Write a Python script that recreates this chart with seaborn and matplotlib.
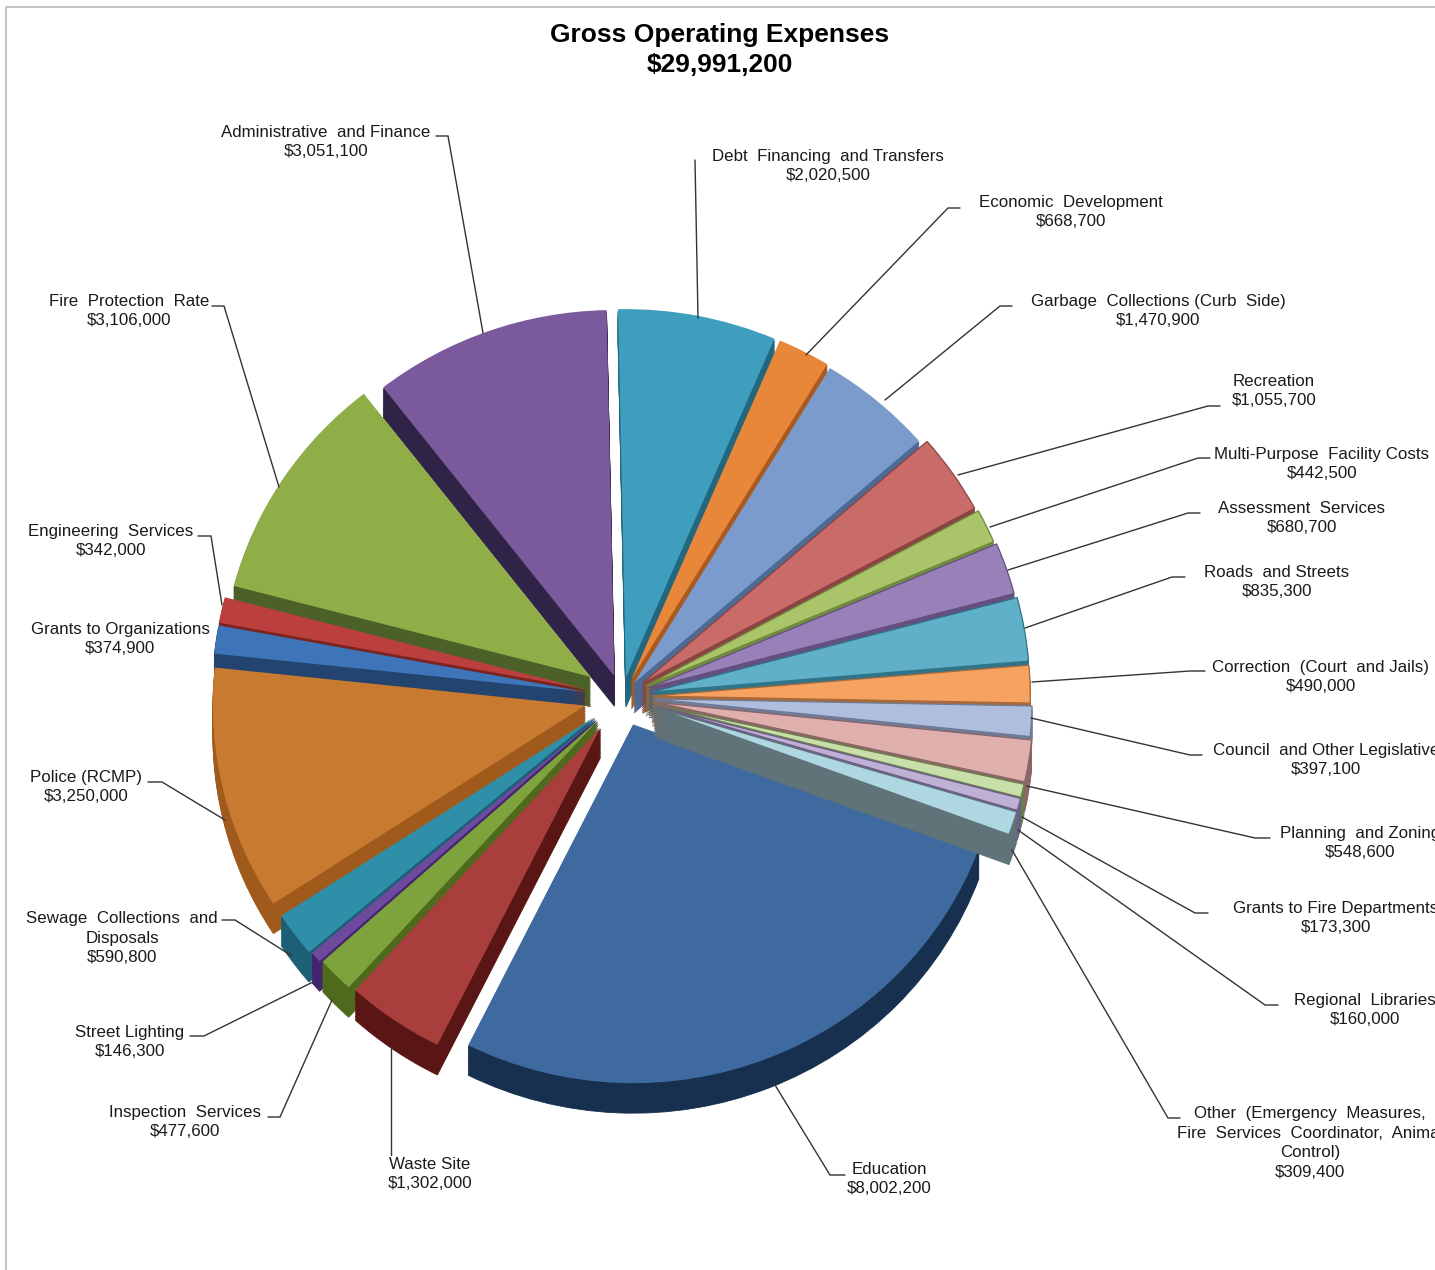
import matplotlib
matplotlib.use("Agg")
import matplotlib.pyplot as plt
import seaborn as sns

categories = [
    "Debt  Financing  and Transfers", "Economic  Development",
    "Garbage  Collections (Curb  Side)", "Recreation",
    "Multi-Purpose  Facility Costs", "Assessment  Services",
    "Roads  and Streets", "Correction  (Court  and Jails)",
    "Council  and Other Legislative", "Planning  and Zoning",
    "Grants to Fire Departments", "Regional  Libraries",
    "Other  (Emergency  Measures,\nFire  Services  Coordinator,  Animal\nControl)",
    "Education", "Waste Site", "Inspection  Services", "Street Lighting",
    "Sewage  Collections  and\nDisposals", "Police (RCMP)",
    "Grants to Organizations", "Engineering  Services",
    "Fire  Protection  Rate", "Administrative  and Finance",
]
amounts = [
    2020500, 668700, 1470900, 1055700, 442500, 680700, 835300, 490000,
    397100, 548600, 173300, 160000, 309400, 8002200, 1302000, 477600,
    146300, 590800, 3250000, 374900, 342000, 3106000, 3051100,
]
gross_total = 29991200
face_colors = [
    "#3f9ebd", "#e8863a", "#7a9bcb", "#c96b68", "#a9c469", "#9880b9",
    "#5fb0c8", "#f6a261", "#b0bede", "#e0b0ae", "#c9dfaa", "#bfb0d6",
    "#aed7e2", "#3f6a9f", "#a83f3c", "#7fa33c", "#6e4a9e", "#2f8fa8",
    "#c87a30", "#3d75b8", "#bb3f3c", "#8fae47", "#7a5a9c",
]
wall_colors = [
    "#23677e", "#a85a20", "#4d6a94", "#8a4442", "#718a40", "#64507f",
    "#2f7488", "#a86a3a", "#6f7a96", "#8a6664", "#6a7f4c", "#6f5c8a",
    "#5f7378", "#17304f", "#5a1615", "#4f6a1c", "#43246e", "#1d5f75",
    "#a05a1c", "#22446f", "#7a2320", "#4c6128", "#2f2347",
]
# Explosion distance and relative radius of each slice; the near side of the
# tilted pie is foreshortened, so its slices are a little shorter.
slice_offsets = [
    0.055, 0.055, 0.05, 0.065, 0.07, 0.075, 0.08, 0.08, 0.085, 0.09, 0.09, 0.09,
    0.09, 0.08, 0.10, 0.09, 0.09, 0.09, 0.10, 0.10, 0.10, 0.10, 0.06,
]
slice_radii = [
    1.0, 1.0, 1.0, 1.0, 1.0, 1.0, 1.0, 1.0, 1.0, 1.0, 1.0, 1.0,
    1.0, 0.975, 0.965, 0.98, 0.985, 0.99, 0.985, 0.985, 0.985, 0.975, 0.995,
]

# Label anchors (centre x, centre y) and leader polylines, in canvas pixels.
label_anchors = [
    (828, 166), (1071, 212), (1158, 311), (1274, 391), (1322, 464), (1302, 518),
    (1277, 582), (1321, 677), (1326, 760), (1360, 843), (1336, 918), (1365, 1010),
    (1310, 1143), (889, 1179), (430, 1174), (185, 1122), (130, 1042), (122, 938),
    (86, 787), (120, 639), (111, 541), (129, 311), (326, 142),
]
leaders = [
    [(695, 160), (698, 318)],
    [(960, 208), (948, 208), (806, 355)],
    [(1012, 306), (1000, 306), (885, 400)],
    [(1220, 406), (1208, 406), (958, 475)],
    [(1210, 458), (1198, 458), (990, 527)],
    [(1200, 513), (1188, 513), (1008, 570)],
    [(1185, 577), (1172, 577), (1025, 628)],
    [(1205, 671), (1190, 671), (1032, 682)],
    [(1202, 755), (1190, 755), (1031, 718)],
    [(1270, 838), (1255, 838), (1027, 786)],
    [(1208, 913), (1195, 913), (1022, 817)],
    [(1278, 1005), (1265, 1005), (1018, 830)],
    [(1180, 1118), (1168, 1118), (1012, 850)],
    [(845, 1175), (830, 1175), (775, 1085)],
    [(391, 1047), (391, 1155)],
    [(268, 1117), (280, 1117), (332, 1000)],
    [(190, 1036), (204, 1036), (313, 982)],
    [(222, 920), (235, 920), (292, 956)],
    [(148, 782), (162, 782), (225, 820)],
    None,
    [(198, 536), (211, 536), (222, 605)],
    [(212, 306), (224, 306), (279, 487)],
    [(436, 136), (448, 136), (483, 333)],
]

WIDTH, HEIGHT = 1435, 1270
CENTER_X, CENTER_Y = 622, 697
RADIUS_X, RADIUS_Y = 378, 368
DEPTH_PX = 30
START_DEG = 91.2

sns.set_theme(style="white")
plt.rcParams["font.family"] = ["Liberation Sans", "DejaVu Sans"]

fig = plt.figure(figsize=(WIDTH / 100, HEIGHT / 100), dpi=100, facecolor="white")
ax = fig.add_axes([0, 0, 1, 1])


def draw_pie(colors, shift_px):
    wedges, _ = ax.pie(
        amounts, explode=slice_offsets, colors=colors, radius=1.0,
        center=(0, -shift_px / RADIUS_Y), startangle=START_DEG,
        counterclock=False, wedgeprops={"linewidth": 0.6, "edgecolor": "none"},
    )
    for w, r in zip(wedges, slice_radii):
        w.set_radius(r)
    return wedges


# Extruded side walls, stacked from the deepest layer upward.
EDUCATION = categories.index("Education")
layers = 16
for step in range(layers, 0, -1):
    for i, w in enumerate(draw_pie(wall_colors, DEPTH_PX * step / layers)):
        w.set_edgecolor(wall_colors[i])
        w.set_zorder(1 if i == EDUCATION else 3)

# Top faces; the right-hand group carries a dark seam between neighbours.
for i, w in enumerate(draw_pie(face_colors, 0)):
    w.set_zorder(2 if i == EDUCATION else 4)
    if 3 <= i <= 12:
        w.set_edgecolor(wall_colors[i])
        w.set_linewidth(0.9)

ax.set_aspect("auto")
ax.set_xlim(-CENTER_X / RADIUS_X, (WIDTH - CENTER_X) / RADIUS_X)
ax.set_ylim(-(HEIGHT - CENTER_Y) / RADIUS_Y, CENTER_Y / RADIUS_Y)
ax.axis("off")

# Overlay in canvas pixels for the frame, title, labels and leader lines.
overlay = fig.add_axes([0, 0, 1, 1], facecolor="none")
overlay.set_xlim(0, WIDTH)
overlay.set_ylim(HEIGHT, 0)
overlay.axis("off")

overlay.plot([6, 6, WIDTH], [HEIGHT, 7, 7], color="#c4c4c4", lw=1.4)

overlay.text(720, 35, "Gross Operating Expenses", ha="center", va="center",
             fontsize=19, fontweight="bold", color="black")
overlay.text(720, 65, f"${gross_total:,}", ha="center", va="center",
             fontsize=19, fontweight="bold", color="black")

for name, value, (x, y), path in zip(categories, amounts, label_anchors, leaders):
    overlay.text(x, y, f"{name}\n${value:,}", ha="center", va="center",
                 fontsize=12.2, color="#1a1a1a", linespacing=1.37, clip_on=False)
    if path:
        xs, ys = zip(*path)
        overlay.plot(xs, ys, color="#333333", lw=1.0, solid_joinstyle="miter")

fig.savefig("out.png", dpi=100, facecolor="white")
